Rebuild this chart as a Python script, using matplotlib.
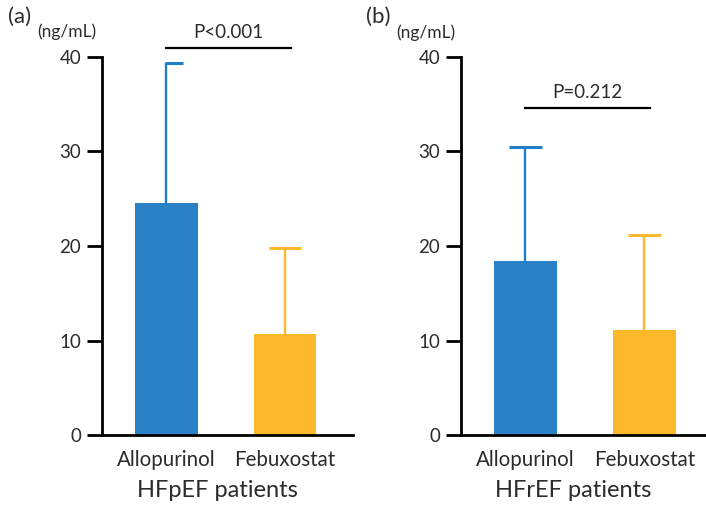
import matplotlib
matplotlib.use("Agg")
import matplotlib.pyplot as plt

plt.rcParams['font.family'] = ['Lato', 'DejaVu Sans']

categories = ["Allopurinol", "Febuxostat"]
hfpef_mean = [24.6, 10.7]
hfpef_err = [14.8, 9.1]
hfref_mean = [18.4, 11.1]
hfref_err = [12.1, 10.1]
yticks = [0, 10, 20, 30, 40]
panel_titles = ["HFpEF patients", "HFrEF patients"]
panel_labels = ["(a)", "(b)"]
pvalues = ["P<0.001", "P=0.212"]
pline_y = [41.0, 34.6]

bar_colors = ["#2A81C6", "#FCB82B"]
err_colors = ["#1F7EC9", "#FDB92A"]
txt = "#2B2B2B"

fig = plt.figure(figsize=(7.06, 5.08), dpi=100)
axes = [fig.add_axes([102/706, 73/508, 251/706, 378/508]),
        fig.add_axes([461/706, 73/508, 245/706, 378/508])]
xlims = [(-0.544, 1.574), (-0.542, 1.517)]
means = [hfpef_mean, hfref_mean]
errs = [hfpef_err, hfref_err]
# cap extents (left, right) relative to bar centre, in category units
caps = [[(0.01, 0.14), (0.135, 0.135)], [(0.135, 0.135), (0.135, 0.135)]]

for i, ax in enumerate(axes):
    x = list(range(len(categories)))
    ax.bar(x, means[i], width=0.53, color=bar_colors, zorder=2)
    for j in x:
        top = means[i][j] + errs[i][j]
        ax.vlines(j, means[i][j], top, color=err_colors[j], lw=1.7, zorder=1)
        ax.hlines(top, j - caps[i][j][0], j + caps[i][j][1], color=err_colors[j],
                  lw=2.2, zorder=1, clip_on=False)
    ax.set_xlim(*xlims[i])
    ax.set_ylim(0, 40)
    ax.set_yticks(yticks)
    ax.set_xticks(x)
    ax.set_xticklabels(categories, fontsize=14.8, color=txt)
    ax.tick_params(axis='y', length=11, width=2, labelsize=13.5, labelcolor=txt, pad=4)
    ax.tick_params(axis='x', length=0, pad=11)
    for s in ['top', 'right']:
        ax.spines[s].set_visible(False)
    for s in ['left', 'bottom']:
        ax.spines[s].set_linewidth(2.0)
    ax.set_xlabel(panel_titles[i], fontsize=17, color=txt, va='center')
    ax.xaxis.set_label_coords(0.458, -0.148)
    # significance line
    ax.plot([0, 1.05], [pline_y[i], pline_y[i]], color='black', lw=1.6, clip_on=False)
    ax.text(0.52, pline_y[i] + 0.7, pvalues[i], ha='center', va='bottom',
            fontsize=13.5, color=txt, clip_on=False)

fig.text(8/706, 1 - 17/508, panel_labels[0], ha='left', va='center', fontsize=16, color=txt)
fig.text(37/706, 1 - 32/508, "(ng/mL)", ha='left', va='center', fontsize=12.5, color=txt)
fig.text(366/706, 1 - 17/508, panel_labels[1], ha='left', va='center', fontsize=16, color=txt)
fig.text(396/706, 1 - 33/508, "(ng/mL)", ha='left', va='center', fontsize=12.5, color=txt)

fig.savefig("out.png", dpi=100)
